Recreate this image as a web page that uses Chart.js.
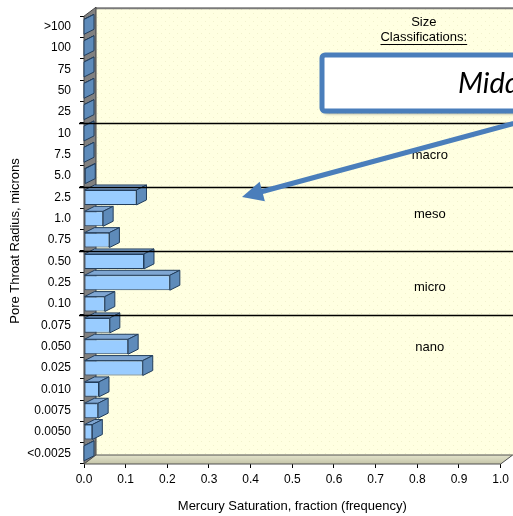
<!DOCTYPE html>
<html>
<head>
<meta charset="utf-8">
<script src="https://cdn.jsdelivr.net/npm/chart.js@4.4.1/dist/chart.umd.min.js"></script>
<style>
html,body{margin:0;padding:0;background:#fff;}
#wrap{width:513px;height:516px;position:relative;}
</style>
</head>
<body>
<div id="wrap"><canvas id="c" width="513" height="516"></canvas></div>
<script>
// ---- data ----
const categories = ['>100','100','75','50','25','10','7.5','5.0','2.5','1.0','0.75','0.50','0.25','0.10','0.075','0.050','0.025','0.010','0.0075','0.0050','<0.0025'];
const saturation = [0,0,0,0,0,0,0,0.003,0.126,0.046,0.061,0.144,0.206,0.05,0.062,0.106,0.141,0.036,0.034,0.02,0];
const xTickValues = [0,0.1,0.2,0.3,0.4,0.5,0.6,0.7,0.8,0.9,1.0];
const classBreaks = [5, 8, 11, 14];           // class line drawn above these category indices
const classNames = ['macro','meso','micro','nano'];
const classNameRows = [6.05, 8.8, 12.2, 15.05]; // category-row positions of the class names
const classNameX = 0.83;
const yTitle = 'Pore Throat Radius, microns';
const xTitle = 'Mercury Saturation, fraction (frequency)';
const calloutText = 'Middle';

// ---- styling ----
const FONT = '"Liberation Sans", Arial, sans-serif';
const WALL_DX = 12, WALL_DY = 9;
const BAR_DX = 10, BAR_DY = 5;
const ARROW_BLUE = '#4A7EBB';

function makePattern(ctx){
  const p = document.createElement('canvas');
  p.width = 8; p.height = 8;
  const g = p.getContext('2d');
  g.fillStyle = '#FFFFE1'; g.fillRect(0,0,8,8);
  g.fillStyle = '#F1F1CC';
  g.fillRect(1,1,1,1); g.fillRect(5,5,1,1);
  return ctx.createPattern(p,'repeat');
}

const threeD = {
  id: 'threeD',
  beforeDatasetsDraw(chart){
    const {ctx, chartArea:a} = chart;
    ctx.save();
    // back wall
    ctx.fillStyle = makePattern(ctx);
    ctx.fillRect(a.left + WALL_DX, a.top - WALL_DY + 1, a.right - a.left + 2, a.bottom - a.top);
    ctx.strokeStyle = '#7a7a7a'; ctx.lineWidth = 2;
    ctx.beginPath(); ctx.moveTo(a.left + WALL_DX, a.top - WALL_DY + 1); ctx.lineTo(chart.width + 2, a.top - WALL_DY + 1); ctx.stroke();
    // left wall
    ctx.fillStyle = '#808080';
    ctx.beginPath();
    ctx.moveTo(a.left, a.top); ctx.lineTo(a.left + WALL_DX, a.top - WALL_DY);
    ctx.lineTo(a.left + WALL_DX, a.bottom - WALL_DY); ctx.lineTo(a.left, a.bottom);
    ctx.closePath(); ctx.fill();
    ctx.strokeStyle = '#404040'; ctx.lineWidth = 1; ctx.stroke();
    // floor
    const fg = ctx.createLinearGradient(0, a.bottom - WALL_DY, 0, a.bottom);
    fg.addColorStop(0, '#E4E4CC'); fg.addColorStop(1, '#C4C4A8');
    ctx.fillStyle = fg;
    ctx.beginPath();
    ctx.moveTo(a.left, a.bottom); ctx.lineTo(a.left + WALL_DX, a.bottom - WALL_DY);
    ctx.lineTo(a.right + WALL_DX, a.bottom - WALL_DY); ctx.lineTo(a.right, a.bottom);
    ctx.closePath(); ctx.fill();
    ctx.strokeStyle = '#505050'; ctx.stroke();
    ctx.restore();
  },
  afterDatasetsDraw(chart){
    const {ctx} = chart;
    const meta = chart.getDatasetMeta(0);
    ctx.save();
    ctx.lineWidth = 1; ctx.strokeStyle = '#233E5C'; ctx.lineJoin = 'round';
    meta.data.forEach(bar => {
      const {x, y, base, height} = bar.getProps(['x','y','base','height'], true);
      const x0 = Math.min(base, x), x1 = Math.max(base, x);
      const yt = y - height/2, yb = y + height/2;
      // top face
      ctx.fillStyle = '#7FA6D2';
      ctx.beginPath();
      ctx.moveTo(x0, yt); ctx.lineTo(x0 + BAR_DX, yt - BAR_DY);
      ctx.lineTo(x1 + BAR_DX, yt - BAR_DY); ctx.lineTo(x1, yt);
      ctx.closePath(); ctx.fill(); ctx.stroke();
      // side face
      ctx.fillStyle = '#5E8BBA';
      ctx.beginPath();
      ctx.moveTo(x1, yt); ctx.lineTo(x1 + BAR_DX, yt - BAR_DY);
      ctx.lineTo(x1 + BAR_DX, yb - BAR_DY); ctx.lineTo(x1, yb);
      ctx.closePath(); ctx.fill(); ctx.stroke();
    });
    ctx.restore();
  },
  afterDraw(chart){
    const {ctx, chartArea:a, scales} = chart;
    const ys = scales.y, xs = scales.x;
    ctx.save();
    // y-axis title
    ctx.fillStyle = '#000';
    ctx.font = '13px ' + FONT;
    ctx.textAlign = 'center'; ctx.textBaseline = 'middle';
    ctx.save();
    ctx.translate(15, 241); ctx.rotate(-Math.PI/2);
    ctx.fillText(yTitle, 0, 0);
    ctx.restore();
    // class lines
    ctx.strokeStyle = '#000'; ctx.lineWidth = 1.3;
    classBreaks.forEach(i => {
      const yy = Math.round((ys.getPixelForValue(i-1) + ys.getPixelForValue(i))/2) + 0.5;
      ctx.beginPath(); ctx.moveTo(a.left - 5, yy); ctx.lineTo(chart.width, yy); ctx.stroke();
    });
    // class labels
    ctx.fillStyle = '#000';
    ctx.font = '13px ' + FONT;
    ctx.textAlign = 'center'; ctx.textBaseline = 'middle';
    const cx = xs.getPixelForValue(classNameX);
    classNames.forEach((n, k) => {
      ctx.fillText(n, cx, ys.getPixelForValue(classNameRows[k]));
    });
    const hx = cx - 6;
    ctx.fillText('Size', hx, 22);
    ctx.fillText('Classifications:', hx, 37);
    const w = ctx.measureText('Classifications:').width;
    ctx.fillRect(hx - w/2, 44, w, 1);
    // arrow
    ctx.strokeStyle = ARROW_BLUE; ctx.fillStyle = ARROW_BLUE;
    ctx.lineWidth = 5; ctx.lineCap = 'round';
    const tx = 242, ty = 197, sx = 560, sy = 111;
    const ang = Math.atan2(sy - ty, sx - tx);
    const hl = 21, hw = 10;
    const bx = tx + Math.cos(ang)*hl, by = ty + Math.sin(ang)*hl;
    ctx.beginPath(); ctx.moveTo(sx, sy); ctx.lineTo(bx, by); ctx.stroke();
    ctx.beginPath();
    ctx.moveTo(tx, ty);
    ctx.lineTo(bx - Math.sin(ang)*hw, by + Math.cos(ang)*hw);
    ctx.lineTo(bx + Math.sin(ang)*hw, by - Math.cos(ang)*hw);
    ctx.closePath(); ctx.fill();
    // callout box
    ctx.save();
    ctx.shadowColor = 'rgba(0,0,0,0.35)'; ctx.shadowOffsetX = 2; ctx.shadowOffsetY = 3; ctx.shadowBlur = 3;
    ctx.fillStyle = '#fff';
    ctx.beginPath();
    if (ctx.roundRect) ctx.roundRect(322, 55, 240, 56, 3); else ctx.rect(322, 55, 240, 56);
    ctx.fill();
    ctx.restore();
    ctx.strokeStyle = ARROW_BLUE; ctx.lineWidth = 5; ctx.lineJoin = 'round';
    ctx.beginPath();
    if (ctx.roundRect) ctx.roundRect(322, 55, 240, 56, 3); else ctx.rect(322, 55, 240, 56);
    ctx.stroke();
    ctx.fillStyle = '#000';
    ctx.font = 'italic 29px Lato, "Open Sans", sans-serif';
    ctx.textAlign = 'left'; ctx.textBaseline = 'alphabetic';
    ctx.fillText(calloutText, 458, 93);
    ctx.restore();
  }
};

new Chart(document.getElementById('c'), {
  type: 'bar',
  data: {
    labels: categories,
    datasets: [{
      data: saturation,
      backgroundColor: '#99CCFF',
      borderColor: '#233E5C',
      borderWidth: 1,
      borderSkipped: false,
      barPercentage: 0.7,
      categoryPercentage: 1.0
    }]
  },
  options: {
    indexAxis: 'y',
    responsive: false,
    animation: false,
    devicePixelRatio: 1,
    layout: { padding: { left: 0, right: 12, top: 12, bottom: 0 } },
    plugins: { legend: { display: false }, tooltip: { enabled: false } },
    scales: {
      y: {
        grid: { display: true, drawOnChartArea: false, drawTicks: true, tickLength: 4, color: '#000', offset: true },
        border: { display: false },
        ticks: { color: '#000', font: { family: FONT, size: 12 }, padding: 9, autoSkip: false },
        title: { display: false },
        afterFit(s){ s.width = 84; }
      },
      x: {
        min: 0, max: 1,
        afterBuildTicks(s){ s.ticks = xTickValues.map(v => ({ value: v })); },
        grid: { display: true, drawOnChartArea: false, drawTicks: true, tickLength: 4, color: '#000' },
        border: { display: false },
        ticks: { color: '#000', font: { family: FONT, size: 12 }, padding: 4, callback: v => Number(v).toFixed(1) },
        title: { display: true, text: xTitle, color: '#000', font: { family: FONT, size: 13 }, padding: { top: 0, bottom: 2 } },
        afterFit(s){ s.height = 52; }
      }
    }
  },
  plugins: [threeD]
});
</script>
</body>
</html>
